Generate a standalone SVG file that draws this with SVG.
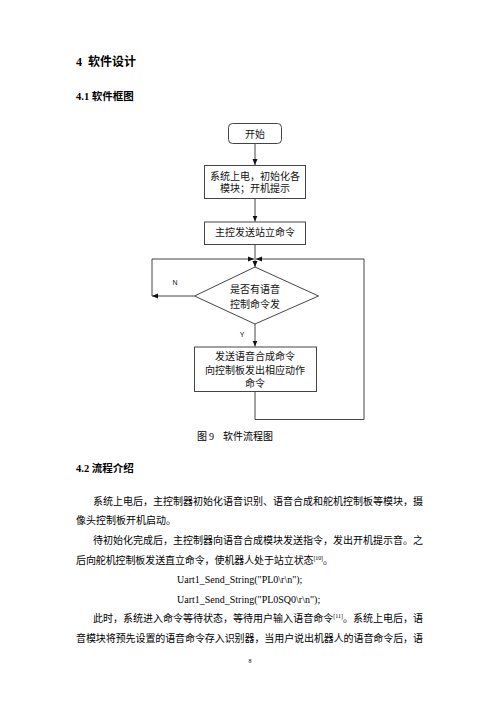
<svg xmlns="http://www.w3.org/2000/svg" width="500" height="707" viewBox="0 0 500 707">
<defs>
<style>
.t{font-family:"Liberation Serif","Noto Sans CJK SC",serif;fill:#000;}
.h{font-weight:bold;}
.fc{font-family:"Liberation Serif","Noto Sans CJK SC",serif;font-size:10px;fill:#111;text-anchor:middle;}
.lbl{font-family:"Liberation Sans",Arial,sans-serif;font-size:7px;fill:#111;text-anchor:middle;}
.shape{fill:#fff;stroke:#444;stroke-width:1;}
.con{fill:none;stroke:#444;stroke-width:1;}
.body{font-size:10px;}
.sup{font-size:6px;}
</style>
<marker id="ah" markerUnits="userSpaceOnUse" markerWidth="6" markerHeight="6" viewBox="0 0 6 6" refX="6" refY="3" orient="auto">
<path d="M0,0.5 L6,3 L0,5.5 Z" fill="#111"/>
</marker>
</defs>
<rect width="500" height="707" fill="#fff"/>

<text class="t h" y="66" font-size="12"><tspan x="76">4</tspan><tspan x="88">软件设计</tspan></text>
<text class="t h" x="76" y="100" font-size="10.5">4.1 软件框图</text>

<g id="connectors">
<path class="con" d="M255,143.5 V165" marker-end="url(#ah)"/>
<path class="con" d="M255,198.5 V221.5" marker-end="url(#ah)"/>
<path class="con" d="M255,244.5 V267" marker-end="url(#ah)"/>
<path class="con" d="M194.5,296 H152" marker-end="url(#ah)"/>
<path class="con" d="M152,296 V259 H254" marker-end="url(#ah)"/>
<path class="con" d="M255,324 V346.5" marker-end="url(#ah)"/>
<path class="con" d="M255,391.5 V419.5 H364 V259 H256" marker-end="url(#ah)"/>
<text class="lbl" x="175" y="285">N</text>
<text class="lbl" x="242" y="337">Y</text>
</g>

<g id="start">
<rect class="shape" x="228.5" y="123.5" width="53" height="20" rx="4"/>
<text class="fc" x="255" y="137.5">开始</text>
</g>
<g id="init">
<rect class="shape" x="204.5" y="165.5" width="101" height="33"/>
<text class="fc" x="255" y="179.5">系统上电，初始化各</text>
<text class="fc" x="255" y="191.5">模块；开机提示</text>
</g>
<g id="stand">
<rect class="shape" x="204.5" y="222" width="101" height="22.5"/>
<text class="fc" x="255" y="236">主控发送站立命令</text>
</g>
<g id="decision">
<polygon class="shape" points="255,267 318.5,296 255,324 194.5,296"/>
<text class="fc" x="255" y="292.5">是否有语音</text>
<text class="fc" x="255" y="307.5">控制命令发</text>
</g>
<g id="send">
<rect class="shape" x="194.5" y="347" width="122" height="44.5"/>
<text class="fc" x="255" y="359.5">发送语音合成命令</text>
<text class="fc" x="255" y="373.5">向控制板发出相应动作</text>
<text class="fc" x="255" y="386.5">命令</text>
</g>

<text class="t" y="440" font-size="10"><tspan x="197">图</tspan><tspan x="209">9</tspan><tspan x="223">软件流程图</tspan></text>

<text class="t h" x="76" y="472" font-size="10.5">4.2 流程介绍</text>

<g class="t body">
<text x="93" y="504.5" textLength="330" lengthAdjust="spacing">系统上电后，主控制器初始化语音识别、语音合成和舵机控制板等模块，摄</text>
<text x="76" y="524">像头控制板开机启动。</text>
<text x="93" y="543.5" textLength="330" lengthAdjust="spacing">待初始化完成后，主控制器向语音合成模块发送指令，发出开机提示音。之</text>
<text x="76" y="563.5" textLength="257" lengthAdjust="spacing">后向舵机控制板发送直立命令，使机器人处于站立状态<tspan class="sup" dy="-4">[10]</tspan><tspan dy="4">。</tspan></text>
<text x="177" y="583">Uart1_Send_String("PL0\r\n");</text>
<text x="177" y="602.5">Uart1_Send_String("PL0SQ0\r\n");</text>
<text x="93" y="622" textLength="330" lengthAdjust="spacing">此时，系统进入命令等待状态，等待用户输入语音命令<tspan class="sup" dy="-4">[11]</tspan><tspan dy="4">。系统上电后，语</tspan></text>
<text x="76" y="641.5" textLength="347" lengthAdjust="spacing">音模块将预先设置的语音命令存入识别器，当用户说出机器人的语音命令后，语</text>
</g>
<text class="t" x="250" y="663" font-size="6" text-anchor="middle">8</text>
</svg>
